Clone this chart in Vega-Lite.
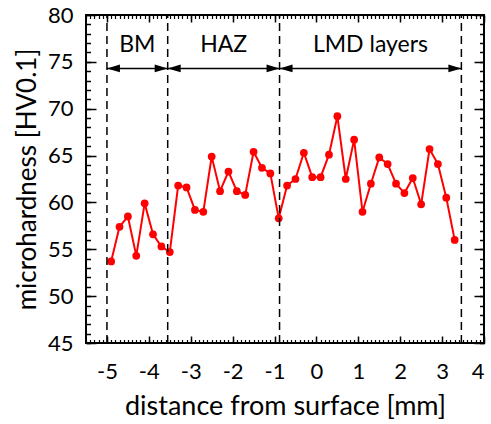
{
  "$schema": "https://vega.github.io/schema/vega-lite/v6.json",
  "width": 398,
  "height": 328,
  "autosize": {"type": "none"},
  "padding": {"left": 86, "top": 15, "right": 7, "bottom": 81},
  "background": "white",
  "config": {
    "view": {"stroke": "black", "strokeWidth": 2},
    "font": "Lato",
    "axis": {"grid": false, "domain": false, "labelColor": "black", "titleColor": "black", "tickColor": "black", "labelFont": "Lato", "titleFont": "Lato", "titleFontWeight": "normal"}
  },
  "datasets": {
    "hv": [
      {"d": -4.9, "hv": 53.7}, {"d": -4.7, "hv": 57.4}, {"d": -4.5, "hv": 58.5}, {"d": -4.3, "hv": 54.3},
      {"d": -4.1, "hv": 59.9}, {"d": -3.9, "hv": 56.6}, {"d": -3.7, "hv": 55.3}, {"d": -3.5, "hv": 54.7},
      {"d": -3.3, "hv": 61.8}, {"d": -3.1, "hv": 61.6}, {"d": -2.9, "hv": 59.2}, {"d": -2.7, "hv": 59.0},
      {"d": -2.5, "hv": 64.9}, {"d": -2.3, "hv": 61.2}, {"d": -2.1, "hv": 63.3}, {"d": -1.9, "hv": 61.2},
      {"d": -1.7, "hv": 60.8}, {"d": -1.5, "hv": 65.4}, {"d": -1.3, "hv": 63.7}, {"d": -1.1, "hv": 63.1},
      {"d": -0.9, "hv": 58.3}, {"d": -0.7, "hv": 61.8}, {"d": -0.5, "hv": 62.5}, {"d": -0.3, "hv": 65.3},
      {"d": -0.1, "hv": 62.7}, {"d": 0.1, "hv": 62.7}, {"d": 0.3, "hv": 65.1}, {"d": 0.5, "hv": 69.2},
      {"d": 0.7, "hv": 62.5}, {"d": 0.9, "hv": 66.7}, {"d": 1.1, "hv": 59.0}, {"d": 1.3, "hv": 62.0},
      {"d": 1.5, "hv": 64.8}, {"d": 1.7, "hv": 64.1}, {"d": 1.9, "hv": 62.0}, {"d": 2.1, "hv": 61.0},
      {"d": 2.3, "hv": 62.6}, {"d": 2.5, "hv": 59.8}, {"d": 2.7, "hv": 65.7}, {"d": 2.9, "hv": 64.1},
      {"d": 3.1, "hv": 60.5}, {"d": 3.3, "hv": 56.0}
    ],
    "bounds": [{"b": -5}, {"b": -3.55}, {"b": -0.88}, {"b": 3.46}],
    "zones": [
      {"zone": "BM", "start": -5, "end": -3.55, "mid": -4.275},
      {"zone": "HAZ", "start": -3.55, "end": -0.88, "mid": -2.215},
      {"zone": "LMD layers", "start": -0.88, "end": 3.46, "mid": 1.29}
    ]
  },
  "resolve": {"axis": {"x": "independent", "y": "independent"}},
  "layer": [
    {
      "data": {"name": "hv"},
      "mark": {"type": "line", "color": "#ff0000", "strokeWidth": 2},
      "encoding": {
        "x": {"field": "d", "type": "quantitative", "scale": {"domain": [-5.5, 4], "nice": false, "zero": false},
          "axis": {"orient": "bottom", "labels": false, "title": null, "tickSize": -7, "tickWidth": 1.5, "values": [-5, -4, -3, -2, -1, 0, 1, 2, 3, 4]}},
        "y": {"field": "hv", "type": "quantitative", "scale": {"domain": [45, 80], "nice": false, "zero": false},
          "axis": {"orient": "left", "labels": false, "title": null, "tickSize": -10, "tickWidth": 1.5, "values": [45, 50, 55, 60, 65, 70, 75, 80]}}
      }
    },
    {
      "data": {"name": "hv"},
      "mark": {"type": "point", "filled": true, "color": "#ff0000", "opacity": 1, "size": 60},
      "encoding": {
        "x": {"field": "d", "type": "quantitative",
          "axis": {"orient": "bottom", "labels": false, "title": null, "tickSize": -3.5, "tickWidth": 1.2, "values": [-5.5,-5.4,-5.3,-5.2,-5.1,-5,-4.9,-4.8,-4.7,-4.6,-4.5,-4.4,-4.3,-4.2,-4.1,-4,-3.9,-3.8,-3.7,-3.6,-3.5,-3.4,-3.3,-3.2,-3.1,-3,-2.9,-2.8,-2.7,-2.6,-2.5,-2.4,-2.3,-2.2,-2.1,-2,-1.9,-1.8,-1.7,-1.6,-1.5,-1.4,-1.3,-1.2,-1.1,-1,-0.9,-0.8,-0.7,-0.6,-0.5,-0.4,-0.3,-0.2,-0.1,0,0.1,0.2,0.3,0.4,0.5,0.6,0.7,0.8,0.9,1,1.1,1.2,1.3,1.4,1.5,1.6,1.7,1.8,1.9,2,2.1,2.2,2.3,2.4,2.5,2.6,2.7,2.8,2.9,3,3.1,3.2,3.3,3.4,3.5,3.6,3.7,3.8,3.9,4]}},
        "y": {"field": "hv", "type": "quantitative",
          "axis": {"orient": "left", "labels": false, "title": null, "tickSize": -4.5, "tickWidth": 1.5, "values": [45,46,47,48,49,50,51,52,53,54,55,56,57,58,59,60,61,62,63,64,65,66,67,68,69,70,71,72,73,74,75,76,77,78,79,80]}}
      }
    },
    {
      "data": {"name": "bounds"},
      "mark": {"type": "rule", "color": "black", "strokeWidth": 1.5, "strokeDash": [8, 5]},
      "encoding": {
        "x": {"field": "b", "type": "quantitative",
          "axis": {"orient": "bottom", "ticks": false, "labels": true, "labelFontSize": 22, "labelPadding": 18, "labelExpr": "datum.value + ''", "values": [-5, -4, -3, -2, -1, 0, 1, 2, 3, 4], "title": "distance from surface [mm]", "titleFontSize": 27, "titlePadding": 11}},
        "y": {"datum": 45, "type": "quantitative",
          "axis": {"orient": "left", "ticks": false, "labels": true, "labelFontSize": 22, "labelPadding": 13, "values": [45, 50, 55, 60, 65, 70, 75, 80], "title": "microhardness [HV0.1]", "titleFontSize": 26, "titlePadding": 7}},
        "y2": {"datum": 80}
      }
    },
    {
      "data": {"name": "zones"},
      "mark": {"type": "rule", "color": "black", "strokeWidth": 1.5},
      "encoding": {
        "x": {"field": "start", "type": "quantitative",
          "axis": {"orient": "top", "labels": false, "title": null, "tickSize": -7, "tickWidth": 1.5, "values": [-5, -4, -3, -2, -1, 0, 1, 2, 3, 4]}},
        "x2": {"field": "end"},
        "y": {"datum": 74.3, "type": "quantitative",
          "axis": {"orient": "right", "labels": false, "title": null, "tickSize": -10, "tickWidth": 1.5, "values": [45, 50, 55, 60, 65, 70, 75, 80]}}
      }
    },
    {
      "data": {"name": "zones"},
      "transform": [{"fold": ["start", "end"], "as": ["side", "pos"]}],
      "mark": {"type": "point", "filled": true, "color": "black", "opacity": 1, "size": 169},
      "encoding": {
        "x": {"field": "pos", "type": "quantitative",
          "axis": {"orient": "top", "labels": false, "title": null, "tickSize": -3.5, "tickWidth": 1.2, "values": [-5.5,-5.4,-5.3,-5.2,-5.1,-5,-4.9,-4.8,-4.7,-4.6,-4.5,-4.4,-4.3,-4.2,-4.1,-4,-3.9,-3.8,-3.7,-3.6,-3.5,-3.4,-3.3,-3.2,-3.1,-3,-2.9,-2.8,-2.7,-2.6,-2.5,-2.4,-2.3,-2.2,-2.1,-2,-1.9,-1.8,-1.7,-1.6,-1.5,-1.4,-1.3,-1.2,-1.1,-1,-0.9,-0.8,-0.7,-0.6,-0.5,-0.4,-0.3,-0.2,-0.1,0,0.1,0.2,0.3,0.4,0.5,0.6,0.7,0.8,0.9,1,1.1,1.2,1.3,1.4,1.5,1.6,1.7,1.8,1.9,2,2.1,2.2,2.3,2.4,2.5,2.6,2.7,2.8,2.9,3,3.1,3.2,3.3,3.4,3.5,3.6,3.7,3.8,3.9,4]}},
        "y": {"datum": 74.3, "type": "quantitative",
          "axis": {"orient": "right", "labels": false, "title": null, "tickSize": -4.5, "tickWidth": 1.5, "values": [45,46,47,48,49,50,51,52,53,54,55,56,57,58,59,60,61,62,63,64,65,66,67,68,69,70,71,72,73,74,75,76,77,78,79,80]}},
        "shape": {"field": "side", "type": "nominal", "legend": null,
          "scale": {"domain": ["start", "end"], "range": ["M0,0L2,-0.6L2,0.6Z", "M0,0L-2,-0.6L-2,0.6Z"]}}
      }
    },
    {
      "data": {"name": "zones"},
      "mark": {"type": "text", "fontSize": 23, "font": "Lato", "color": "black", "baseline": "middle", "align": "center"},
      "encoding": {
        "x": {"field": "mid", "type": "quantitative", "axis": null},
        "y": {"datum": 76.8, "type": "quantitative", "axis": null},
        "text": {"field": "zone"}
      }
    }
  ]
}
